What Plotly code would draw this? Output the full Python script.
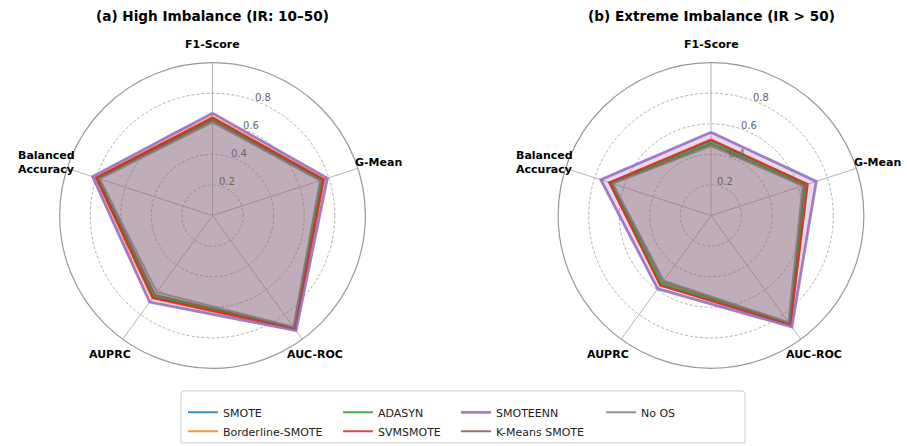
import math
import plotly.graph_objects as go

# Metrics shown on the spokes
metrics = ["F1-Score", "G-Mean", "AUC-ROC", "AUPRC", "Balanced Accuracy"]
metric_labels = ["F1-Score", "G-Mean", "AUC-ROC", "AUPRC", "Balanced<br>Accuracy"]

methods = ["SMOTE", "Borderline-SMOTE", "ADASYN", "SVMSMOTE",
           "SMOTEENN", "K-Means SMOTE", "No OS"]

# (a) High imbalance, IR 10-50: one row per method, columns follow `metrics`
high_smote      = [0.635, 0.760, 0.915, 0.660, 0.800]
high_borderline = [0.645, 0.770, 0.920, 0.670, 0.805]
high_adasyn     = [0.630, 0.755, 0.910, 0.650, 0.795]
high_svmsmote   = [0.640, 0.765, 0.918, 0.665, 0.800]
high_smoteenn   = [0.670, 0.790, 0.930, 0.700, 0.825]
high_kmeans     = [0.620, 0.745, 0.905, 0.640, 0.785]
high_noos       = [0.610, 0.740, 0.900, 0.620, 0.775]

# (b) Extreme imbalance, IR > 50
ext_smote      = [0.490, 0.660, 0.880, 0.560, 0.695]
ext_borderline = [0.500, 0.665, 0.885, 0.565, 0.700]
ext_adasyn     = [0.476, 0.650, 0.875, 0.550, 0.690]
ext_svmsmote   = [0.495, 0.665, 0.885, 0.565, 0.700]
ext_smoteenn   = [0.545, 0.724, 0.900, 0.593, 0.758]
ext_kmeans     = [0.465, 0.640, 0.870, 0.535, 0.680]
ext_noos       = [0.455, 0.630, 0.862, 0.526, 0.675]

high_values = [high_smote, high_borderline, high_adasyn, high_svmsmote,
               high_smoteenn, high_kmeans, high_noos]
ext_values = [ext_smote, ext_borderline, ext_adasyn, ext_svmsmote,
              ext_smoteenn, ext_kmeans, ext_noos]

radial_ticks = [0.2, 0.4, 0.6, 0.8]
panel_titles = ["(a) High Imbalance (IR: 10\u201350)", "(b) Extreme Imbalance (IR > 50)"]

colors = [(31, 119, 180), (255, 127, 14), (44, 160, 44), (214, 39, 40),
          (148, 103, 189), (140, 86, 75), (127, 127, 127)]
fill_alpha = [0.08, 0.08, 0.08, 0.08, 0.25, 0.08, 0.08]
# legend column for each method (columns are filled top to bottom)
legend_of = ["legend", "legend", "legend2", "legend2", "legend3", "legend3", "legend4"]

W, H = 907, 446
FONT = "DejaVu Sans"
CY, RAD = 220, 156           # polar centre height and radius, px
CENTERS = [212.5, 711]       # polar centres, px
RLABEL_ANGLE = 67.5          # direction of the radial tick labels, degrees


def rgba(c, a):
    return f"rgba({c[0]},{c[1]},{c[2]},{a})"


fig = go.Figure()

for p, values in enumerate([high_values, ext_values]):
    subplot = "polar" if p == 0 else "polar2"
    theta = metrics + [metrics[0]]
    # translucent areas first (SMOTEENN's on top), outlines afterwards
    fill_order = [i for i in range(len(methods)) if methods[i] != "SMOTEENN"] + \
                 [methods.index("SMOTEENN")]
    for i in fill_order:
        vals = values[i]
        fig.add_trace(go.Scatterpolar(
            r=vals + [vals[0]], theta=theta, mode="lines", fill="toself",
            fillcolor=rgba(colors[i], fill_alpha[i]),
            line=dict(width=0, color=rgba(colors[i], 0)),
            showlegend=False, hoverinfo="skip", subplot=subplot))
    for i, (name, vals) in enumerate(zip(methods, values)):
        fig.add_trace(go.Scatterpolar(
            r=vals + [vals[0]], theta=theta, mode="lines", name=name,
            line=dict(color=rgba(colors[i], 0.85), width=2.8 if name == "SMOTEENN" else 2),
            showlegend=(p == 0), legend=legend_of[i], subplot=subplot))


def polar_layout(cx):
    return dict(
        domain=dict(x=[(cx - RAD) / W, (cx + RAD) / W],
                    y=[(H - CY - RAD) / H, (H - CY + RAD) / H]),
        bgcolor="white",
        radialaxis=dict(range=[0, 1], tickvals=radial_ticks,
                        showline=False, ticks="", showticklabels=False,
                        gridcolor="#b0b0b0", griddash="3px,2px", gridwidth=1),
        angularaxis=dict(rotation=90, direction="clockwise",
                         showline=True, linecolor="#999", linewidth=1.2,
                         gridcolor="#b5b5b5", gridwidth=1,
                         ticks="", showticklabels=False),
    )


annotations = []
for p, cx in enumerate(CENTERS):
    annotations.append(dict(
        text=f"<b>{panel_titles[p]}</b>", x=cx / W, y=1 - 16 / H,
        xref="paper", yref="paper", xanchor="center", yanchor="middle",
        showarrow=False, font=dict(family=FONT, size=13.6, color="black")))
    # spoke labels, centred a little outside the outer ring
    for k, lab in enumerate(metric_labels):
        ang = math.radians(90 - 72 * k)
        lx = cx + 1.12 * RAD * math.cos(ang)
        ly = CY - 1.12 * RAD * math.sin(ang)
        annotations.append(dict(
            text=f"<b>{lab}</b>", x=lx / W, y=1 - ly / H,
            xref="paper", yref="paper", xanchor="center", yanchor="middle",
            align="left", showarrow=False,
            font=dict(family=FONT, size=11, color="black")))
    # radial tick labels, centred on a line just right of the top spoke
    ra = math.radians(RLABEL_ANGLE)
    for t in radial_ticks:
        rr_px = t * RAD + 6
        annotations.append(dict(
            text=f"{t:.1f}", x=(cx + rr_px * math.cos(ra)) / W,
            y=1 - (CY - rr_px * math.sin(ra)) / H,
            xref="paper", yref="paper", xanchor="center", yanchor="middle",
            showarrow=False, font=dict(family=FONT, size=10, color="#666")))

legend_cols = [183, 338, 456, 601]
legends = {}
for k, x0 in enumerate(legend_cols):
    key = "legend" if k == 0 else f"legend{k + 1}"
    legends[key] = dict(x=x0 / W, y=1 - 406 / H, xanchor="left", yanchor="top",
                        orientation="v", bgcolor="rgba(0,0,0,0)", borderwidth=0,
                        font=dict(family=FONT, size=11, color="#222"),
                        tracegroupgap=0)

# rounded frame round the legend columns
x0, x1, y0, y1, rr = 181, 745, 399, 452, 3
frame = (f"M {(x0 + rr) / W},{1 - y0 / H} L {(x1 - rr) / W},{1 - y0 / H} "
         f"Q {x1 / W},{1 - y0 / H} {x1 / W},{1 - (y0 + rr) / H} "
         f"L {x1 / W},{1 - y1 / H} L {x0 / W},{1 - y1 / H} "
         f"L {x0 / W},{1 - (y0 + rr) / H} Q {x0 / W},{1 - y0 / H} {(x0 + rr) / W},{1 - y0 / H} Z")

fig.update_layout(
    width=W, height=H, margin=dict(l=0, r=0, t=0, b=0),
    paper_bgcolor="white", plot_bgcolor="white",
    font=dict(family=FONT),
    polar=polar_layout(CENTERS[0]), polar2=polar_layout(CENTERS[1]),
    shapes=[dict(type="path", path=frame, xref="paper", yref="paper",
                 line=dict(color="#cccccc", width=1), fillcolor="rgba(255,255,255,0.8)",
                 layer="below")],
    annotations=annotations,
    **legends,
)

fig.write_html("out.html")
